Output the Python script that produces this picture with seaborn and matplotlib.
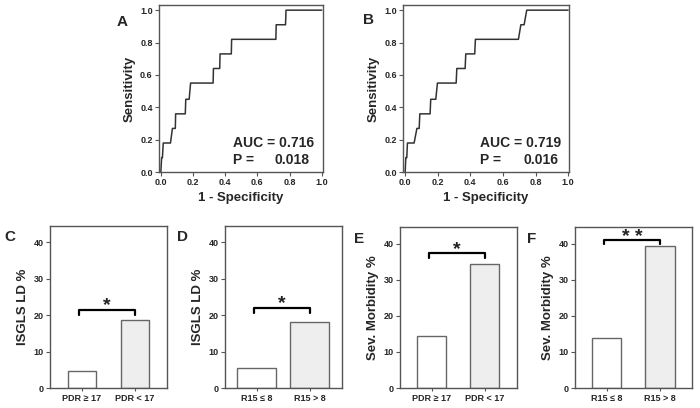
import matplotlib
matplotlib.use("Agg")
import matplotlib.pyplot as plt
import seaborn as sns

# --- DADOS ---
# curva ROC A
fpr_a = [0.00, 0.005, 0.010, 0.015, 0.060, 0.072, 0.090, 0.092, 0.152, 0.155, 0.176, 0.185,
         0.325, 0.327, 0.366, 0.368, 0.438, 0.440, 0.715, 0.717, 0.775, 0.778, 1.00]
tpr_a = [0.00, 0.09, 0.09, 0.18, 0.18, 0.27, 0.27, 0.36, 0.36, 0.45, 0.45, 0.55,
         0.55, 0.64, 0.64, 0.73, 0.73, 0.82, 0.82, 0.91, 0.91, 1.00, 1.00]
# curva ROC B
fpr_b = [0.00, 0.004, 0.010, 0.014, 0.055, 0.072, 0.086, 0.090, 0.153, 0.157, 0.188, 0.198,
         0.313, 0.317, 0.368, 0.372, 0.427, 0.431, 0.695, 0.710, 0.730, 0.746, 1.00]
tpr_b = [0.00, 0.09, 0.09, 0.18, 0.18, 0.27, 0.27, 0.36, 0.36, 0.45, 0.45, 0.55,
         0.55, 0.64, 0.64, 0.73, 0.73, 0.82, 0.82, 0.91, 0.91, 1.00, 1.00]
auc_labels = ["0.716", "0.719"]
p_labels = ["0.018", "0.016"]

# barras C-F
groups_pdr = ["PDR \u2265 17", "PDR < 17"]
groups_r15 = ["R15 \u2264 8", "R15 > 8"]
isgls_pdr = [4.8, 18.8]
isgls_r15 = [5.6, 18.0]
morb_pdr = [14.4, 34.4]
morb_r15 = [13.8, 39.3]
stars = ["*", "*", "*", "* *"]

# --- ESTILO ---
sns.set_style("white")
plt.rcParams["font.family"] = ["Liberation Sans", "DejaVu Sans"]
plt.rcParams["font.weight"] = "bold"

fig = plt.figure(figsize=(7, 4.08), dpi=100)

spine_col = "#555555"


def style_axes(ax):
    for s in ax.spines.values():
        s.set_color(spine_col)
        s.set_linewidth(1.0)
    ax.tick_params(axis="both", which="both", direction="out", length=3, width=0.8,
                   color=spine_col, labelsize=6.5, pad=1.5, bottom=True, left=True)
    for lab in ax.get_xticklabels() + ax.get_yticklabels():
        lab.set_fontweight("bold")


# --- ROC ---
roc = [
    ([0.227, 0.578, 0.234, 0.409], fpr_a, tpr_a, "A", (-0.26, 0.90), 0.45, 0.925),
    ([0.576, 0.578, 0.237, 0.409], fpr_b, tpr_b, "B", (-0.24, 0.91), 0.46, 0.94),
]
for i, (pos, fx, ty, letter, lpos, tl, tr) in enumerate(roc):
    ax = fig.add_axes(pos)
    sns.lineplot(x=fx, y=ty, sort=False, estimator=None, color="#333333", linewidth=1.1, ax=ax)
    ax.set_xlim(-0.012, 1.006)
    ax.set_ylim(0, 1.03)
    ax.set_xticks([0, 0.2, 0.4, 0.6, 0.8, 1.0])
    ax.set_yticks([0, 0.2, 0.4, 0.6, 0.8, 1.0])
    ax.set_xticklabels([f"{v:.1f}" for v in ax.get_xticks()])
    ax.set_yticklabels([f"{v:.1f}" for v in ax.get_yticks()])
    ax.set_xlabel("1 - Specificity", fontsize=9.5, fontweight="bold", labelpad=3)
    ax.set_ylabel("Sensitivity", fontsize=9.5, fontweight="bold", labelpad=3)
    style_axes(ax)
    ax.text(tl, 0.18, "AUC = " + auc_labels[i], fontsize=10, fontweight="bold", va="center", ha="left")
    ax.text(tl, 0.075, "P =", fontsize=10, fontweight="bold", va="center", ha="left")
    ax.text(tr, 0.075, p_labels[i], fontsize=10, fontweight="bold", va="center", ha="right")
    ax.text(lpos[0], lpos[1], letter, transform=ax.transAxes, fontsize=11, fontweight="bold",
            ha="left", va="center")

# --- BARRAS ---
bars = [
    ([0.0714, 0.049, 0.167, 0.397], groups_pdr, isgls_pdr, "ISGLS LD %", "C", 0.54, 21.3, 22.6),
    ([0.321, 0.049, 0.167, 0.397], groups_r15, isgls_r15, "ISGLS LD %", "D", 0.73, 21.9, 23.2),
    ([0.571, 0.049, 0.167, 0.394], groups_pdr, morb_pdr, "Sev. Morbidity %", "E", 0.55, 37.3, 38.2),
    ([0.821, 0.049, 0.167, 0.394], groups_r15, morb_r15, "Sev. Morbidity %", "F", 0.56, 41.0, 41.6),
]
for i, (pos, cats, vals, ylab, letter, w, by, sy) in enumerate(bars):
    ax = fig.add_axes(pos)
    sns.barplot(x=cats, y=vals, hue=cats, palette=["white", "#eeeeee"], width=w,
                edgecolor="#666666", linewidth=1.0, legend=False, ax=ax)
    ax.set_xlim(-0.6, 1.6)
    ax.set_ylim(0, 44.5)
    ax.set_yticks([0, 10, 20, 30, 40])
    ax.set_ylabel(ylab, fontsize=9.5, fontweight="bold", labelpad=3)
    style_axes(ax)
    ax.tick_params(axis="x", labelsize=6.5, length=2.5)
    # colchete de significância
    ax.plot([-0.05, -0.05, 1.0, 1.0], [by - 1.2, by, by, by - 1.2], color="black", linewidth=1.6)
    ax.text(0.475, sy, stars[i], fontsize=14, ha="center", va="center", color="#222222")
    lx = -0.39 if i in (0, 2) else -0.41
    ax.text(lx, 0.93, letter, transform=ax.transAxes, fontsize=11, fontweight="bold",
            ha="left", va="center")

fig.savefig("out.png", dpi=100)
